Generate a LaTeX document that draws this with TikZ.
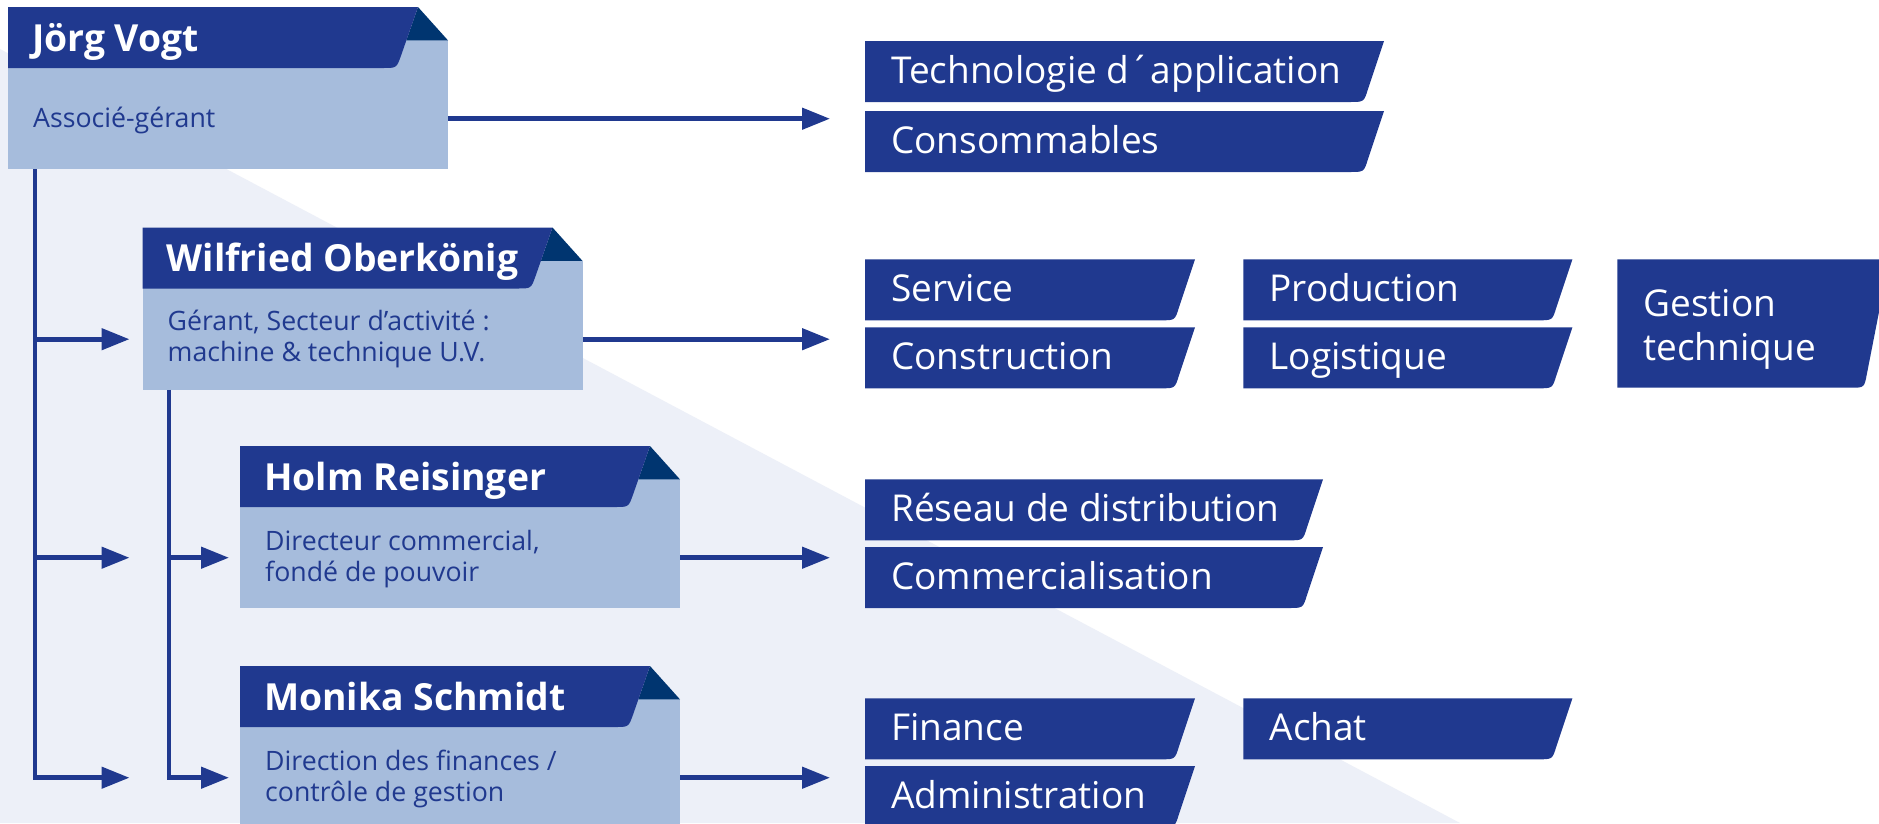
\documentclass[tikz,border=0pt]{standalone}
\usepackage{fontspec}
\setmainfont{Open Sans}
\usetikzlibrary{arrows.meta}
\definecolor{cDark}{RGB}{32,57,143}
\definecolor{cFold}{RGB}{0,53,112}
\definecolor{cLight}{RGB}{166,188,220}
\definecolor{cBg}{RGB}{237,240,248}
\tikzset{
  headfill/.style={fill=cDark},
  foldfill/.style={fill=cFold},
  bodyfill/.style={fill=cLight},
  boxframe/.style={draw=none, inner sep=0pt, anchor=north west, minimum width=440pt},
  personname/.style={anchor=base west, inner sep=0pt, text=white, font=\bfseries\fontsize{37.3}{44}\selectfont},
  personsub/.style={anchor=base west, inner sep=0pt, text=cDark, align=left, font=\fontsize{26.7}{31.5}\selectfont},
  depttext/.style={anchor=base west, inner sep=0pt, text=white, align=left, font=\fontsize{37}{43.3}\selectfont},
  conn/.style={draw=cDark, line width=4.7pt},
  arrowc/.style={conn, -{Triangle[length=28pt,width=21pt]}},
}
% #6 = baseline of the LAST subtitle line, relative to the box top
\newcommand\orgperson[6]{%
  \begin{scope}[shift={(#2,#3)}]
    \fill[bodyfill] (0,33.4) rectangle (440,162);
    \fill[foldfill] (410,0) -- (440,33.4) -- (398.3,33.4) -- cycle;
    \fill[headfill] (0,0) -- (410,0) -- (392.9,49) .. controls (388.6,61) .. (375,61) -- (0,61) -- cycle;
    \node[boxframe, minimum height=162pt] (#1) at (0,0) {};
    \node[boxframe, minimum height=101pt] (#1b) at (0,61) {};
    \node[personname] (#1n) at (24,44) {#4};
    \node[personsub] (#1s) at (25,#6) {#5};
  \end{scope}}
\newcommand\deptbox[5]{%
  \begin{scope}[shift={(#2,#3)}]
    \fill[headfill] (0,0) -- (#4,0) -- ({#4-16},48) .. controls ({#4-20},61) .. ({#4-34},61) -- (0,61) -- cycle;
    \node[depttext] (#1) at (26,42) {#5};
  \end{scope}}
\begin{document}
\begin{tikzpicture}[x=1pt,y=-1pt]
\useasboundingbox (0,0) rectangle (1879,823);
\clip (0,0) rectangle (1879,823);
\fill[white] (0,0) rectangle (1879,823);
\fill[cBg] (0,49) -- (1460,823) -- (0,823) -- cycle;

\orgperson{jv}{8}{7}{Jörg Vogt}{Associé-gérant}{120}
\orgperson{wo}{142.5}{227.5}{Wilfried Oberkönig}{Gérant, Secteur d’activité :\\machine \& technique U.V.}{134}
\orgperson{hr}{240}{446}{Holm Reisinger}{Directeur commercial,\\fondé de pouvoir}{135.5}
\orgperson{ms}{240}{666}{Monika Schmidt}{Direction des finances /\\contrôle de gestion}{135.5}

\deptbox{tech}{865}{41}{519}{Technologie d´application}
\deptbox{cons}{865}{111}{519}{Consommables}
\deptbox{serv}{865}{259.3}{330}{Service}
\deptbox{constr}{865}{327.3}{330}{Construction}
\deptbox{prod}{1243.4}{259.3}{329}{Production}
\deptbox{logi}{1243.4}{327.3}{329}{Logistique}
\deptbox{reseau}{865}{479.3}{458}{Réseau de distribution}
\deptbox{comm}{865}{547}{458}{Commercialisation}
\deptbox{fin}{865}{698.3}{330}{Finance}
\deptbox{admin}{865}{766}{330}{Administration}
\deptbox{achat}{1243.4}{698.3}{329}{Achat}
\begin{scope}[shift={(1617.3,259.3)}]
  \fill[headfill] (0,0) -- (272,0) -- (249.5,115) .. controls (247,128.4) .. (233,128.4) -- (0,128.4) -- cycle;
  \node[depttext] (gest) at (26,100.7) {Gestion\\technique};
\end{scope}

\coordinate (tipx) at (830,0);
\coordinate (t1x) at (35,0);
\coordinate (t2x) at (169,0);
\coordinate (l1tip) at (129.5,0);
\coordinate (l2tip) at (229,0);

\draw[arrowc] (jvb.east) -- (jvb.east -| tipx);
\draw[arrowc] (wob.east) -- (wob.east -| tipx);
\draw[arrowc] (hrb.east) -- (hrb.east -| tipx);
\draw[arrowc] (msb.east) -- (msb.east -| tipx);

\draw[arrowc] (jv.south -| t1x) |- (msb.west -| l1tip);
\draw[arrowc] (wob.west -| t1x) -- (wob.west -| l1tip);
\draw[arrowc] (hrb.west -| t1x) -- (hrb.west -| l1tip);
\draw[arrowc] (wo.south -| t2x) |- (msb.west -| l2tip);
\draw[arrowc] (hrb.west -| t2x) -- (hrb.west -| l2tip);
\end{tikzpicture}
\end{document}
